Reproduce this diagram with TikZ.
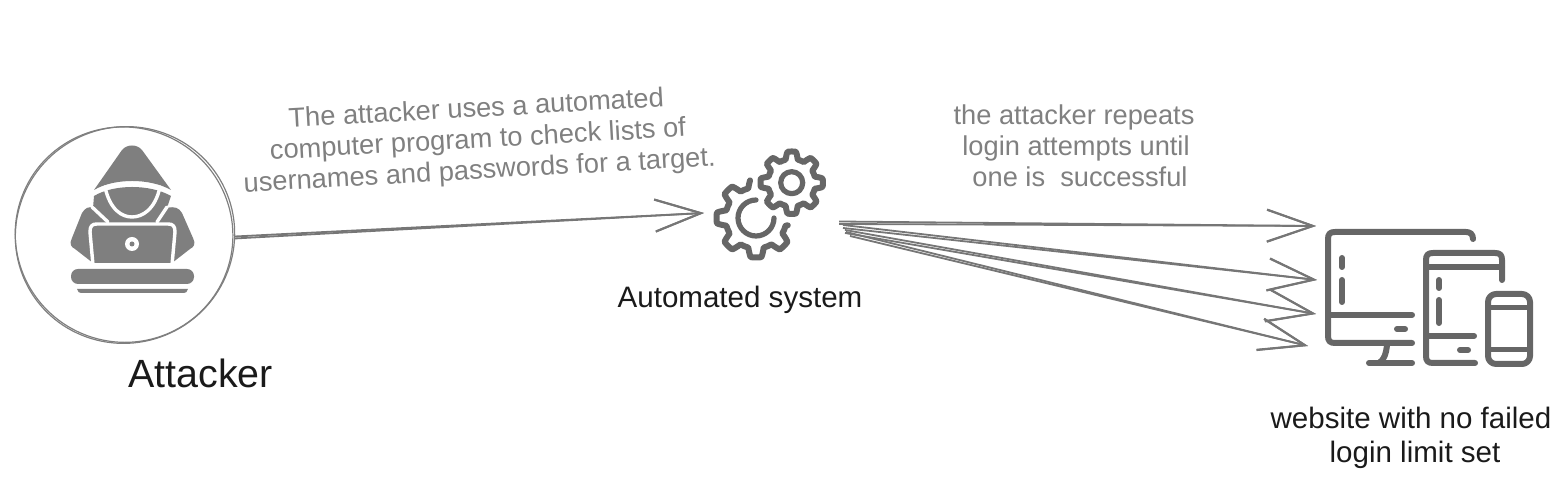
\documentclass[tikz,border=0pt]{standalone}
\usepackage{fontspec}
\setmainfont{Liberation Sans}
\usepackage{tikz}
\usetikzlibrary{arrows.meta}

\definecolor{sketchgray}{HTML}{767676}
\definecolor{hackergray}{HTML}{7F7F7F}
\definecolor{icongray}{HTML}{666666}
\definecolor{notegray}{HTML}{808080}
\definecolor{labelblack}{HTML}{1A1A1A}

\tikzset{
  sketch/.style={sketchgray, line width=.018cm, -{Straight Barb[length=.46cm, width=.32cm, line width=.02cm]}},
  ring/.style={hackergray, line width=.012cm},
  icon/.style={icongray, line width=.06cm, line cap=round, line join=round},
  cutout/.style={white, line width=.034cm, line cap=round, line join=round},
  note/.style={notegray, align=center, font=\fontsize{7.75pt}{8.8pt}\selectfont},
  label/.style={labelblack, align=center, font=\fontsize{8.4pt}{9.7pt}\selectfont}
}

% gear outline: centre x, centre y, mean radius, tooth height, from angle, to angle
\newcommand{\gearline}[6]{
  \draw[icon, domain=#5:#6, samples=200, smooth] plot
    ({#1+(#3+#4*min(1,max(-1,2.2*cos(8*\x))))*cos(\x)},
     {#2-(#3+#4*min(1,max(-1,2.2*cos(8*\x))))*sin(\x)});
}

\begin{document}
\begin{tikzpicture}[x=.01cm, y=-.01cm]
\useasboundingbox (0,0) rectangle (1558,480);

% attacker
\node[circle, minimum size=2.18cm, inner sep=0] (attacker) at (125,235.5) {};
\draw[ring, rotate around={25:(125,235)}] (125,235) ellipse [x radius=110, y radius=108];
\draw[ring, rotate around={-20:(125,235)}] (124,235) ellipse [x radius=109, y radius=107.5];

\fill[hackergray] (94,190)--(122,150) .. controls (127,144) and (137,144) .. (142,150)--(171,190)
  .. controls (150,178) and (114,178) .. (94,190)--cycle;
\fill[hackergray] (94,196) .. controls (114,184) and (150,184) .. (171,196)--(167,208)
  .. controls (175,206) and (179,208) .. (182,213)--(193,238) .. controls (196,244) and (194,247) .. (190,249)
  --(172,263)--(93,263)--(75,249) .. controls (71,247) and (69,244) .. (72,238)--(82,213)
  .. controls (85,208) and (89,206) .. (93,208)--cycle;
\draw[cutout] (105,187) .. controls (110,210) and (122,217) .. (132,217) .. controls (142,217) and (155,210) .. (160,187);
\draw[cutout] (92,207)--(108,222);
\draw[cutout] (167,207)--(157,222);
\draw[cutout] (93,265)--(90,232) .. controls (90,226) and (92,224) .. (97,224)--(168,224)
  .. controls (173,224) and (175,226) .. (175,232)--(172,265);
\fill[white] (132,244) circle [radius=7];
\fill[hackergray] (132,244) circle [radius=2.5];
\fill[white] (85,263) rectangle (180,268);
\fill[hackergray, rounded corners=.07cm] (71,269) rectangle (194,284);
\fill[hackergray] (77,289)--(188,289) .. controls (187,292) and (186,293) .. (184,293)--(81,293) .. controls (79,293) and (78,292) .. (77,289)--cycle;

% gears
\gearline{756}{218}{35}{4.5}{99}{347}
\gearline{791.7}{182.7}{27.5}{3.7}{0}{360}
\draw[icon, line width=.052cm] (791.7,182.7) circle [radius=11];
\draw[icon, line width=.052cm] (756,200) arc [start angle=-90, end angle=-360, radius=18];

% devices
\draw[icon] (1473,239) .. controls (1473,234) and (1470,232) .. (1466,232)--(1335,232)
  .. controls (1330,232) and (1328,234) .. (1328,239)--(1328,336)
  .. controls (1328,341) and (1330,343) .. (1335,343)--(1412,343);
\draw[icon] (1330,315)--(1412,315);
\draw[icon] (1397,329)--(1405,329);
\draw[icon] (1387,345) .. controls (1386,354) and (1384,360) .. (1379,363);
\draw[icon] (1369,363)--(1412,363);
\draw[icon] (1342,258)--(1342,267);
\draw[icon] (1342,280)--(1342,302);

\draw[icon] (1502,280)--(1502,260) .. controls (1502,255) and (1500,253) .. (1495,253)--(1433,253)
  .. controls (1428,253) and (1426,255) .. (1426,260)--(1426,356)
  .. controls (1426,361) and (1428,363) .. (1433,363)--(1475,363);
\draw[icon] (1426,267)--(1502,267);
\draw[icon] (1426,336)--(1474,336);
\draw[icon] (1460,350)--(1468,350);
\draw[icon] (1439,280)--(1439,288);
\draw[icon] (1439,300)--(1439,323);

\draw[icon, rounded corners=.08cm] (1488,294) rectangle (1530,364);
\draw[icon, line width=.05cm] (1488,308)--(1530,308);
\draw[icon, line width=.05cm] (1488,350)--(1530,350);

% end points of the arrows
\coordinate (gearsin) at (704,213);
\coordinate (gearsout) at (839,224);
\coordinate (gearsouta) at (843,228);
\coordinate (gearsoutb) at (845,230);
\coordinate (gearsoutc) at (846,232);
\coordinate (sitea) at (1316,226);
\coordinate (siteb) at (1317,280);
\coordinate (sitec) at (1316,314);
\coordinate (sited) at (1308,346);

\draw[sketch] ([yshift=-.01cm]attacker.east) -- (gearsin);
\draw[sketch] ([yshift=-.03cm]attacker.east) -- (gearsin);
\draw[sketch] (gearsout) -- (sitea);
\draw[sketch] ([yshift=.025cm]gearsout) -- (sitea);
\draw[sketch] (gearsouta) -- (siteb);
\draw[sketch] ([yshift=.03cm]gearsouta) -- (siteb);
\draw[sketch] (gearsoutb) -- (sitec);
\draw[sketch] ([yshift=-.03cm]gearsoutb) -- (sitec);
\draw[sketch] (gearsoutc) -- (sited);
\draw[sketch] ([xshift=.04cm,yshift=-.04cm]gearsoutc) -- (sited);

% texts
\node[note, rotate=3.2] (program) at (478,141) {The attacker uses a automated\\computer program to check lists of\\usernames and passwords for a target.};
\node[note] (repeats) at (1074,146) {the attacker repeats\\\hspace{.04cm}login attempts until\\\hspace{.12cm}one is \ successful};
\node[labelblack, font=\fontsize{11.2pt}{13pt}\selectfont] (attackerlabel) at (200.5,373) {Attacker};
\node[label] (gearslabel) at (740,300) {Automated system};
\node[label] (sitelabel) at (1411,438) {website with no failed\\\hspace{.08cm}login limit set};
\end{tikzpicture}
\end{document}
